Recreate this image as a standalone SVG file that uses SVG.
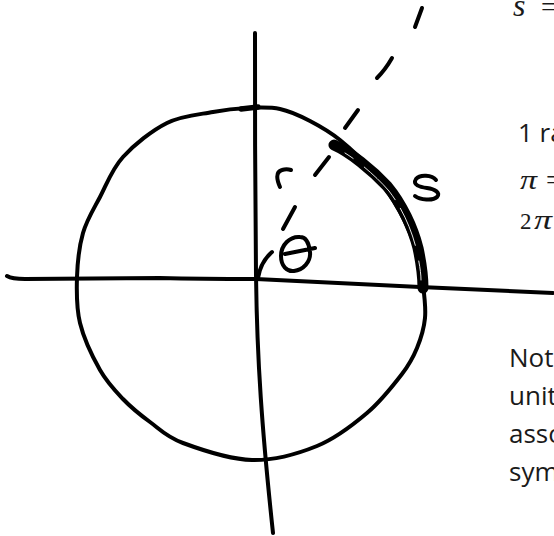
<svg xmlns="http://www.w3.org/2000/svg" width="554" height="536" viewBox="0 0 554 536">
<style>
.ink{fill:none;stroke:#000;stroke-width:4;stroke-linecap:round;stroke-linejoin:round}
.body{font-family:"Open Sans","Liberation Sans",sans-serif;font-size:26px;fill:#1a1a1a}
.math{font-family:"Liberation Serif","DejaVu Serif",serif;font-size:28px;fill:#1a1a1a}
.mi{font-style:italic}
</style>
<rect width="554" height="536" fill="#fff"/>
<g id="axes">
<path id="y-axis" class="ink" d="M255,33 C255,110 255,200 256,275 C257,360 262,430 273,533"/>
<path id="x-axis" class="ink" d="M7,276 C12,279 18,279 25,279 L160,278 C200,279 230,279 256,279 C320,282 380,285 420,287 L553,293"/>
</g>
<g id="circle">
<path class="ink" d="M247,108 C258.2,107.5 269.5,106.8 280,109 C290.5,111.2 300,115.8 310,121 C320,126.2 329.5,131.5 340,140 C350.5,148.5 363,160 373,172 C383,184 392.8,199 400,212 C407.2,225 412.2,237.8 416,250 C419.8,262.2 421.5,273.7 423,285 C424.5,296.3 426,307.5 425,318 C424,328.5 420.8,338.7 417,348 C413.2,357.3 410.3,363.2 402,374 C393.7,384.8 381.2,401 367,413 C352.8,425 336.2,438.2 317,446 C297.8,453.8 274.3,460.5 252,460 C229.7,459.5 200,449.3 183,443 C166,436.7 160,429.3 150,422 C140,414.7 131.3,407.7 123,399 C114.7,390.3 107.2,382.7 100,370 C92.8,357.3 83.8,338.5 80,323 C76.2,307.5 76.5,292 77,277 C77.5,262 79.2,246.3 83,233 C86.8,219.7 93.3,209.7 100,197 C106.7,184.3 111.8,169.3 123,157 C134.2,144.7 152,130.5 167,123 C182,115.5 199.7,114.5 213,112 C226.3,109.5 235.8,108.5 247,108 Z"/>
<path class="ink" style="stroke-width:5.5" d="M241,109 L258,107"/>
</g>
<g id="arc-s">
<path class="ink" style="stroke-width:11" d="M334,145 C350,152 372,170 387,186 C402,204 413,228 418,248 C421,262 423,275 423,288"/>
<path fill="none" stroke="#fff" stroke-width="0.9" stroke-linecap="round" stroke-dasharray="10 14 45 10 40 16 25" d="M345,153 C358,161 376,176 389,191 C402,208 411,228 416,248 C419,261 421,272 421,280"/>
<path id="label-s" class="ink" d="M436,180 C432,175 420,174 416,179 C412,185 420,187 427,188 C435,189 441,193 437,197 C433,201 420,200 415,196"/>
</g>
<g id="radius">
<path class="ink" d="M283,229 L295,207"/>
<path class="ink" d="M315,175 L329,157"/>
<path class="ink" d="M345,128 L358,110"/>
<path class="ink" d="M377,78 C383,72 388,65 392,58"/>
<path class="ink" d="M415,27 L422,8"/>
<path id="label-r" class="ink" d="M280,187 C277,180 275,172 282,170 C285,169 288,169 291,170"/>
</g>
<g id="angle">
<path class="ink" d="M258,278 C260,266 265,258 272,252"/>
<path id="label-theta" class="ink" d="M300,237 C290,236 281,245 281,256 C281,266 287,272 294,271 C303,270 311,262 310,252 C309,243 306,237 300,237 Z M285,254 L315,248"/>
</g>
<g id="text-top">
<text class="math" y="16"><tspan class="mi" style="font-size:32px" x="513">s</tspan><tspan x="541">=</tspan></text>
<text class="body" x="518" y="142">1 ra</text>
<text class="math" y="189"><tspan class="mi" x="520" textLength="17" lengthAdjust="spacingAndGlyphs">π</tspan><tspan x="546">=</tspan></text>
<text class="math" style="font-size:23px" y="229"><tspan x="520">2</tspan><tspan class="mi" style="font-size:28px" x="534" textLength="18" lengthAdjust="spacingAndGlyphs">π</tspan></text>
</g>
<g id="text-note" class="body">
<text x="509" y="367">Not</text>
<text x="509" y="405">unit</text>
<text x="509" y="443">asso</text>
<text x="509" y="481">sym</text>
</g>
</svg>
